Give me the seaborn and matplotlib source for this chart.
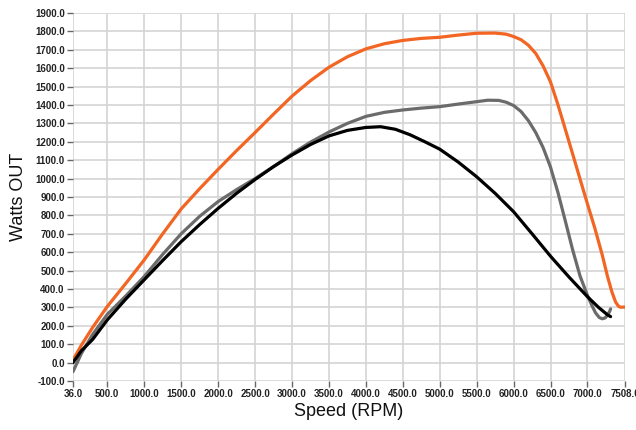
import matplotlib
matplotlib.use("Agg")
import matplotlib.pyplot as plt
import seaborn as sns
import pandas as pd

orange_rpm = [36, 150, 300, 500, 750, 1000, 1250, 1500, 1750, 2000, 2250, 2500, 2750, 3000, 3250, 3500, 3750, 4000, 4250, 4500, 4750, 5000, 5250, 5500, 5750, 5900, 6000, 6100, 6200, 6300, 6400, 6500, 6600, 6700, 6800, 6900, 7000, 7100, 7200, 7270, 7330, 7380, 7420, 7450, 7508]
orange_w = [14, 95, 190, 305, 430, 558, 700, 835, 945, 1050, 1152, 1250, 1350, 1448, 1532, 1605, 1662, 1705, 1733, 1751, 1762, 1768, 1780, 1790, 1791, 1785, 1772, 1755, 1725, 1680, 1612, 1525, 1402, 1268, 1133, 997, 862, 730, 585, 470, 385, 330, 306, 301, 302]

gray_rpm = [36, 150, 300, 500, 750, 1000, 1250, 1500, 1750, 2000, 2250, 2500, 2750, 3000, 3250, 3500, 3750, 4000, 4250, 4500, 4750, 5000, 5250, 5500, 5650, 5800, 5900, 6000, 6100, 6200, 6300, 6400, 6500, 6600, 6700, 6800, 6900, 7000, 7060, 7110, 7160, 7200, 7240, 7270, 7300, 7313]
gray_w = [-49, 50, 152, 262, 362, 468, 588, 700, 795, 875, 940, 1000, 1065, 1135, 1198, 1253, 1300, 1338, 1360, 1373, 1383, 1391, 1405, 1418, 1426, 1425, 1415, 1397, 1365, 1315, 1250, 1168, 1062, 925, 770, 612, 470, 365, 310, 270, 245, 238, 243, 258, 278, 292]

black_rpm = [36, 150, 300, 500, 750, 1000, 1250, 1500, 1750, 2000, 2250, 2500, 2750, 3000, 3250, 3500, 3750, 4000, 4200, 4400, 4600, 4800, 5000, 5250, 5500, 5750, 6000, 6250, 6500, 6750, 7000, 7150, 7270, 7313]
black_w = [0, 65, 125, 232, 345, 450, 555, 657, 750, 838, 920, 995, 1065, 1128, 1185, 1232, 1262, 1278, 1282, 1268, 1238, 1200, 1160, 1090, 1010, 920, 820, 700, 578, 465, 358, 300, 260, 250]

x_ticks = [36, 500, 1000, 1500, 2000, 2500, 3000, 3500, 4000, 4500, 5000, 5500, 6000, 6500, 7000, 7508]
y_ticks = list(range(-100, 2000, 100))

sns.set_theme(style="white")
plt.rcParams['font.family'] = ['Liberation Sans', 'DejaVu Sans']

fig = plt.figure(figsize=(6.36, 4.30), dpi=100)
ax = fig.add_axes([73/636, 49/430, (625-73)/636, (381-13)/430])

df_o = pd.DataFrame({"rpm": orange_rpm, "w": orange_w})
df_g = pd.DataFrame({"rpm": gray_rpm, "w": gray_w})
df_b = pd.DataFrame({"rpm": black_rpm, "w": black_w})

kw = dict(linewidth=2.3, sort=False, solid_joinstyle='round', solid_capstyle='round')
sns.lineplot(data=df_o, x="rpm", y="w", ax=ax, color="#F26522", **kw)
sns.lineplot(data=df_g, x="rpm", y="w", ax=ax, color="#6b6b6b", **kw)
sns.lineplot(data=df_b, x="rpm", y="w", ax=ax, color="#000000", **kw)

ax.set_xlim(36, 7508)
ax.set_ylim(-100, 1900)
ax.set_xticks(x_ticks)
ax.set_xticklabels([f"{v:.1f}" for v in x_ticks])
ax.set_yticks(y_ticks)
ax.set_yticklabels([f"{v:.1f}" for v in y_ticks])
for lab in ax.get_xticklabels() + ax.get_yticklabels():
    lab.set_family(['Liberation Sans Narrow', 'Liberation Sans', 'DejaVu Sans'])
    lab.set_fontweight('bold')
    lab.set_fontsize(7)
    lab.set_color('#222222')
ax.tick_params(axis='both', which='both', length=4, width=1, color='#666666', pad=2, direction='out', bottom=True, left=True)
ax.grid(True, color='#d4d4d4', linewidth=1.2)
ax.set_axisbelow(True)
for s in ax.spines.values():
    s.set_visible(False)
ax.set_xlabel("Speed (RPM)", fontsize=13, color='#111111', labelpad=3)
ax.set_ylabel("Watts OUT", fontsize=13, color='#111111', labelpad=6)

fig.savefig("out.png", dpi=100)
